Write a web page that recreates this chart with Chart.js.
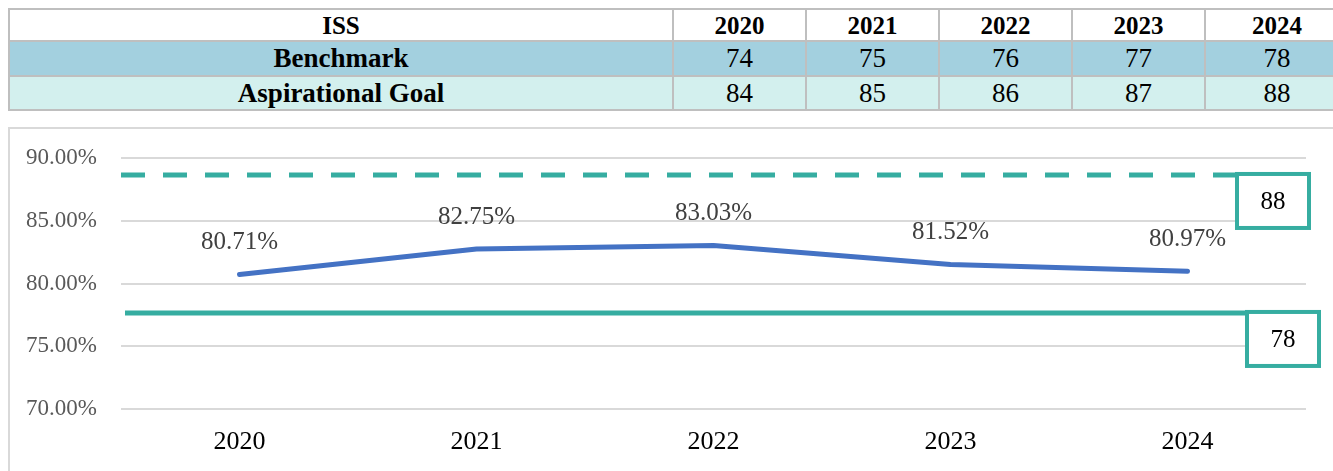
<!DOCTYPE html>
<html>
<head>
<meta charset="utf-8">
<script src="https://cdn.jsdelivr.net/npm/chart.js@4/dist/chart.umd.min.js"></script>
<style>
  body { margin: 0; background: #fff; width: 1333px; height: 471px; overflow: hidden; position: relative; font-family: "Liberation Serif", "Times New Roman", serif; }
  #tbl { position: absolute; left: 8px; top: 8px; border-collapse: collapse; table-layout: fixed; width: 1340px; }
  #tbl td { border: 2px solid #bfbfbf; text-align: center; padding: 0; color: #000; line-height: 1; overflow: hidden; }
  #tbl tr.hdr td { height: 30px; font-weight: bold; font-size: 25px; background: #fff; }
  #tbl tr.bm td { height: 33px; font-size: 27px; background: #a3d0df; }
  #tbl tr.ag td { height: 32px; font-size: 27px; background: #d3f0ee; }
  #tbl td.name { font-weight: bold; font-size: 27px; }
  #frame { position: absolute; left: 8px; top: 127px; width: 1340px; height: 360px; border: 2px solid #d9d9d9; box-sizing: border-box; }
  #chart { position: absolute; left: 0; top: 120px; }
</style>
</head>
<body>
<table id="tbl"></table>
<div id="frame"></div>
<canvas id="chart" width="1333" height="351"></canvas>
<script>
// chart data
var years = ['2020', '2021', '2022', '2023', '2024'];
var issRates = [80.71, 82.75, 83.03, 81.52, 80.97];
var benchmark = [74, 75, 76, 77, 78];
var aspirationalGoal = [84, 85, 86, 87, 88];
var yTicks = [70, 75, 80, 85, 90];

var TEAL = '#36ada1';

// build the table on top
(function () {
  var tbl = document.getElementById('tbl');
  var widths = [664, 133, 133, 133, 133, 144];
  var cg = '<colgroup>' + widths.map(function (w) { return '<col style="width:' + w + 'px">'; }).join('') + '</colgroup>';
  var row = function (cls, name, vals) {
    return '<tr class="' + cls + '"><td class="name">' + name + '</td>' +
      vals.map(function (v) { return '<td>' + v + '</td>'; }).join('') + '</tr>';
  };
  tbl.innerHTML = cg + row('hdr', 'ISS', years) + row('bm', 'Benchmark', benchmark) + row('ag', 'Aspirational Goal', aspirationalGoal);
})();

// value labels above the ISS line
var pointLabels = {
  id: 'pointLabels',
  afterDatasetsDraw: function (chart) {
    var ctx = chart.ctx;
    var meta = chart.getDatasetMeta(0);
    ctx.save();
    ctx.font = '25px "Liberation Serif"';
    ctx.fillStyle = '#404040';
    ctx.textAlign = 'center';
    ctx.textBaseline = 'middle';
    meta.data.forEach(function (pt, i) {
      ctx.fillText(issRates[i].toFixed(2) + '%', pt.x, pt.y - 32);
    });
    ctx.restore();
  }
};

// benchmark / goal lines with boxed value labels at the right
var targetLines = {
  id: 'targetLines',
  beforeDatasetsDraw: function (chart) {
    var ctx = chart.ctx;
    var area = chart.chartArea;
    var y2 = chart.scales.y2;
    var last = years.length - 1;
    var items = [
      { value: aspirationalGoal[last], dash: [24, 18], boxLeft: area.right - 69, x0: area.left },
      { value: benchmark[last], dash: [], boxLeft: area.right - 59, x0: area.left + 4 }
    ];
    ctx.save();
    items.forEach(function (it) {
      var y = y2.getPixelForValue(it.value);
      ctx.strokeStyle = TEAL;
      ctx.lineWidth = 5;
      ctx.setLineDash(it.dash);
      ctx.beginPath();
      ctx.moveTo(it.x0, y);
      ctx.lineTo(it.boxLeft, y);
      ctx.stroke();
      ctx.setLineDash([]);
      ctx.lineWidth = 4;
      ctx.fillStyle = '#fff';
      ctx.fillRect(it.boxLeft, y - 1, 72, 54);
      ctx.strokeRect(it.boxLeft, y - 1, 72, 54);
      ctx.fillStyle = '#000';
      ctx.font = '25px "Liberation Serif"';
      ctx.textAlign = 'center';
      ctx.textBaseline = 'middle';
      ctx.fillText(String(it.value), it.boxLeft + 36, y + 27);
    });
    ctx.restore();
  }
};

new Chart(document.getElementById('chart').getContext('2d'), {
  type: 'line',
  data: {
    labels: years,
    datasets: [{
      label: 'ISS',
      data: issRates,
      borderColor: '#4472c4',
      borderWidth: 5,
      borderCapStyle: 'round',
      borderJoinStyle: 'round',
      pointRadius: 0,
      tension: 0,
      fill: false,
      yAxisID: 'y'
    }]
  },
  options: {
    responsive: false,
    animation: false,
    layout: { padding: { top: 38, right: 27, left: 0, bottom: 0 } },
    plugins: { legend: { display: false }, tooltip: { enabled: false } },
    scales: {
      x: {
        offset: true,
        grid: { display: false, drawTicks: false },
        border: { display: false },
        ticks: { color: '#000', font: { family: 'Liberation Serif', size: 26 }, padding: 18 },
        afterFit: function (s) { s.height = 62; }
      },
      y: {
        min: 70,
        max: 90,
        afterBuildTicks: function (s) { s.ticks = yTicks.map(function (v) { return { value: v }; }); },
        grid: { color: '#d9d9d9', lineWidth: 2, drawTicks: false },
        border: { display: false },
        ticks: {
          color: '#595959',
          font: { family: 'Liberation Serif', size: 23 },
          padding: 24,
          callback: function (v) { return v.toFixed(2) + '%'; }
        },
        afterFit: function (s) { s.width = 121; }
      },
      y2: {
        display: false,
        min: 71.04,
        max: 89.23
      }
    }
  },
  plugins: [targetLines, pointLabels]
});
</script>
</body>
</html>
